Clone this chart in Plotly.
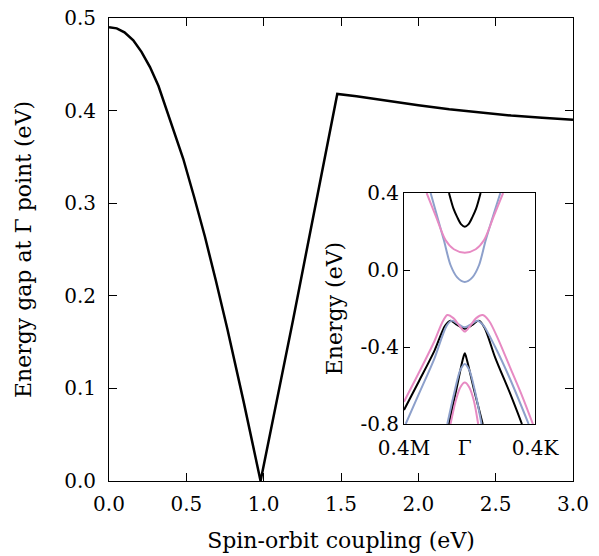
import plotly.graph_objects as go

# Main panel: band gap at Gamma versus spin-orbit coupling strength
soc = [0.0, 0.05, 0.10, 0.157, 0.21, 0.265, 0.32, 0.373, 0.43, 0.48, 0.55, 0.62,
       0.69, 0.765, 0.87, 0.98, 1.19, 1.343, 1.476, 1.6, 1.8, 2.0, 2.2, 2.4,
       2.6, 2.8, 3.0]
gap = [0.490, 0.4888, 0.4845, 0.476, 0.4635, 0.447, 0.4265, 0.401, 0.374, 0.348, 0.307, 0.264,
       0.217, 0.1645, 0.086, 0.0, 0.174, 0.305, 0.418, 0.4155, 0.4105, 0.4058, 0.4015, 0.3978,
       0.3947, 0.3922, 0.390]

x_ticks = [0.0, 0.5, 1.0, 1.5, 2.0, 2.5, 3.0]
x_tick_text = ["0.0", "0.5", "1.0", "1.5", "2.0", "2.5", "3.0"]
y_ticks = [0.0, 0.1, 0.2, 0.3, 0.4, 0.5]
y_tick_text = ["0.0", "0.1", "0.2", "0.3", "0.4", "0.5"]

# Inset: band structure along M - Gamma - K (k in units of |Gamma M|)
k_left, k_right = -0.4, 0.4619
inset_k_ticks = [k_left, 0.0, k_right]
inset_k_text = ["0.4M", "Γ", "0.4K"]
inset_e_ticks = [0.4, 0.0, -0.4, -0.8]
inset_e_text = ["0.4", "0.0", "-0.4", "-0.8"]

BLACK = "#000000"
BLUE = "#8da0cb"
PINK = "#e78ac3"

bands = [
    # conduction bands
    (BLACK, [-0.104, -0.075, -0.05, -0.025, 0.0, 0.025, 0.05, 0.075, 0.104],
            [0.40, 0.32, 0.275, 0.238, 0.225, 0.238, 0.275, 0.32, 0.40]),
    (BLUE, [-0.225, -0.138, -0.094, -0.05, 0.0, 0.05, 0.094, 0.138, 0.234],
           [0.40, 0.156, 0.026, -0.038, -0.062, -0.038, 0.026, 0.156, 0.40]),
    (PINK, [-0.251, -0.19, -0.127, -0.072, 0.0, 0.072, 0.127, 0.19, 0.252],
           [0.40, 0.278, 0.156, 0.108, 0.090, 0.108, 0.156, 0.278, 0.40]),
    # upper valence bands
    (BLACK, [-0.40, -0.30, -0.20, -0.13, -0.094, -0.05, 0.0, 0.05, 0.092, 0.13, 0.20, 0.30, 0.376],
            [-0.727, -0.575, -0.42, -0.29, -0.263, -0.285, -0.305, -0.285, -0.263, -0.30, -0.455, -0.645, -0.80]),
    (BLUE, [-0.389, -0.30, -0.20, -0.12, -0.085, -0.045, 0.0, 0.045, 0.082, 0.12, 0.20, 0.30, 0.42],
           [-0.80, -0.64, -0.46, -0.29, -0.263, -0.28, -0.298, -0.28, -0.263, -0.285, -0.40, -0.57, -0.80]),
    (PINK, [-0.40, -0.30, -0.20, -0.15, -0.115, -0.075, -0.035, 0.0, 0.035, 0.075, 0.118, 0.16, 0.22, 0.30, 0.38, 0.448],
           [-0.684, -0.53, -0.37, -0.275, -0.234, -0.25, -0.29, -0.32, -0.29, -0.25, -0.234, -0.265, -0.36, -0.51, -0.66, -0.80]),
    # lower valence bands
    (BLACK, [-0.105, -0.05, -0.015, 0.0, 0.015, 0.06, 0.118],
            [-0.80, -0.60, -0.47, -0.433, -0.47, -0.62, -0.80]),
    (BLUE, [-0.115, -0.07, -0.03, 0.0, 0.03, 0.07, 0.11],
           [-0.80, -0.64, -0.52, -0.488, -0.52, -0.64, -0.80]),
    (PINK, [-0.094, -0.06, -0.03, 0.0, 0.03, 0.06, 0.088],
           [-0.80, -0.68, -0.61, -0.585, -0.61, -0.68, -0.80]),
]

FONT = "DejaVu Serif"

fig = go.Figure()
fig.add_trace(go.Scatter(x=soc, y=gap, mode="lines",
                         line=dict(color=BLACK, width=2.5),
                         xaxis="x", yaxis="y", showlegend=False))

for color, ks, es in bands:
    fig.add_trace(go.Scatter(x=ks, y=es, mode="lines",
                             line=dict(color=color, width=2, shape="spline", smoothing=0.8),
                             xaxis="x2", yaxis="y2", showlegend=False))

# vertical line at Gamma
fig.add_shape(type="line", xref="x2", yref="y2 domain", x0=0, x1=0, y0=0, y1=1,
              line=dict(color=BLACK, width=1), layer="below")

axis_common = dict(showline=True, linecolor=BLACK, linewidth=1, mirror="ticks",
                   showgrid=False, zeroline=False, ticks="inside", tickcolor=BLACK,
                   automargin=False,
                   tickfont=dict(family=FONT, size=20, color=BLACK))

fig.update_layout(
    width=599, height=556,
    margin=dict(l=109, r=26, t=18, b=75),
    paper_bgcolor="white", plot_bgcolor="white",
    font=dict(family=FONT, color=BLACK),
    xaxis=dict(**axis_common, range=[0, 3], ticklen=8, ticklabelstandoff=5,
               tickvals=x_ticks, ticktext=x_tick_text,
               title=dict(text="Spin-orbit coupling (eV)", font=dict(size=22), standoff=17)),
    yaxis=dict(**axis_common, range=[0, 0.5], ticklen=8,
               tickvals=y_ticks, ticktext=y_tick_text, ticklabelstandoff=8,
               title=dict(text="Energy gap at Γ point (eV)", font=dict(size=22), standoff=26)),
    xaxis2=dict(showline=True, linecolor=BLACK, linewidth=1, mirror=True,
                showgrid=False, zeroline=False, ticks="", automargin=False,
                tickfont=dict(family=FONT, size=20, color=BLACK),
                domain=[0.6358, 0.9181], anchor="y2", range=[k_left, k_right],
                tickvals=inset_k_ticks, ticktext=inset_k_text, ticklabelstandoff=6),
    yaxis2=dict(**axis_common, domain=[0.1231, 0.622], anchor="x2", range=[-0.8, 0.4],
                ticklen=6, tickvals=inset_e_ticks, ticktext=inset_e_text,
                title=dict(text="Energy (eV)", font=dict(size=22), standoff=11)),
)

fig.write_html("out.html")
